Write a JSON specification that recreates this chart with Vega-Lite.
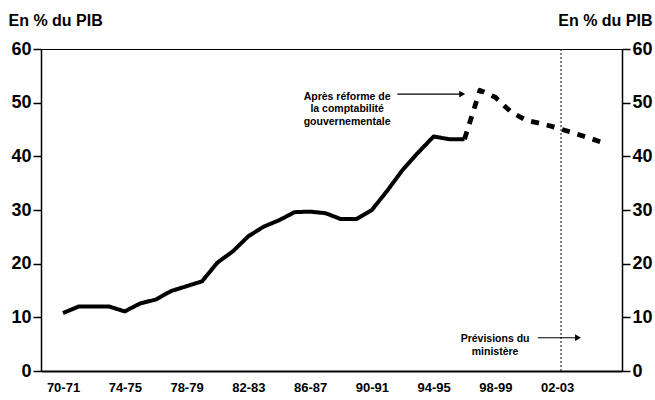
{
  "$schema": "https://vega.github.io/schema/vega-lite/v6.json",
  "width": 581,
  "height": 322,
  "autosize": {"type": "none"},
  "padding": {"left": 41, "top": 49, "right": 33, "bottom": 29},
  "background": "white",
  "config": {
    "view": {"stroke": "black", "strokeWidth": 1},
    "font": "Liberation Sans",
    "axis": {
      "domainColor": "black",
      "tickColor": "black",
      "labelColor": "black",
      "titleColor": "black",
      "grid": false,
      "labelFont": "Liberation Sans",
      "labelFontWeight": "bold",
      "titleFont": "Liberation Sans",
      "titleFontWeight": "bold"
    }
  },
  "datasets": {
    "dette": [
      {"annee": 1970, "valeur": 10.8, "serie": "Réel"},
      {"annee": 1971, "valeur": 12.0, "serie": "Réel"},
      {"annee": 1972, "valeur": 12.0, "serie": "Réel"},
      {"annee": 1973, "valeur": 12.0, "serie": "Réel"},
      {"annee": 1974, "valeur": 11.1, "serie": "Réel"},
      {"annee": 1975, "valeur": 12.6, "serie": "Réel"},
      {"annee": 1976, "valeur": 13.3, "serie": "Réel"},
      {"annee": 1977, "valeur": 14.9, "serie": "Réel"},
      {"annee": 1978, "valeur": 15.8, "serie": "Réel"},
      {"annee": 1979, "valeur": 16.7, "serie": "Réel"},
      {"annee": 1980, "valeur": 20.2, "serie": "Réel"},
      {"annee": 1981, "valeur": 22.3, "serie": "Réel"},
      {"annee": 1982, "valeur": 25.1, "serie": "Réel"},
      {"annee": 1983, "valeur": 26.9, "serie": "Réel"},
      {"annee": 1984, "valeur": 28.1, "serie": "Réel"},
      {"annee": 1985, "valeur": 29.6, "serie": "Réel"},
      {"annee": 1986, "valeur": 29.7, "serie": "Réel"},
      {"annee": 1987, "valeur": 29.4, "serie": "Réel"},
      {"annee": 1988, "valeur": 28.3, "serie": "Réel"},
      {"annee": 1989, "valeur": 28.3, "serie": "Réel"},
      {"annee": 1990, "valeur": 30.0, "serie": "Réel"},
      {"annee": 1991, "valeur": 33.6, "serie": "Réel"},
      {"annee": 1992, "valeur": 37.5, "serie": "Réel"},
      {"annee": 1993, "valeur": 40.7, "serie": "Réel"},
      {"annee": 1994, "valeur": 43.7, "serie": "Réel"},
      {"annee": 1995, "valeur": 43.2, "serie": "Réel"},
      {"annee": 1996, "valeur": 43.2, "serie": "Réel"},
      {"annee": 1996, "valeur": 43.2, "serie": "Après réforme"},
      {"annee": 1997, "valeur": 52.3, "serie": "Après réforme"},
      {"annee": 1998, "valeur": 51.0, "serie": "Après réforme"},
      {"annee": 1999, "valeur": 48.3, "serie": "Après réforme"},
      {"annee": 2000, "valeur": 46.7, "serie": "Après réforme"},
      {"annee": 2001, "valeur": 46.1, "serie": "Après réforme"},
      {"annee": 2002, "valeur": 45.3, "serie": "Après réforme"},
      {"annee": 2003, "valeur": 44.4, "serie": "Après réforme"},
      {"annee": 2004, "valeur": 43.5, "serie": "Après réforme"},
      {"annee": 2005, "valeur": 42.5, "serie": "Après réforme"}
    ],
    "repere": [
      {"annee": 2002.25, "valeur": 0, "valeur2": 60}
    ],
    "fleches": [
      {"annee": 1991.65, "annee2": 1995.7, "valeur": 51.6, "pointe": 1995.85},
      {"annee": 2000.75, "annee2": 2003.2, "valeur": 6.2, "pointe": 2003.35}
    ],
    "notes": [
      {"annee": 1988.4, "valeur": 51.1, "texte": "Après réforme de\nla comptabilité\ngouvernementale"},
      {"annee": 1997.98, "valeur": 5.9, "texte": "Prévisions du\nministère"}
    ]
  },
  "layer": [
    {
      "data": {"name": "dette"},
      "mark": {"type": "line", "color": "black", "strokeJoin": "round"},
      "encoding": {
        "x": {
          "field": "annee",
          "type": "quantitative",
          "scale": {"domain": [1968.575, 2006.2], "nice": false, "zero": false},
          "axis": {
            "orient": "bottom",
            "values": [1970, 1974, 1978, 1982, 1986, 1990, 1994, 1998, 2002],
            "labelExpr": "substring('' + datum.value, 2, 4) + '-' + substring('' + (datum.value + 1), 2, 4)",
            "tickSize": 0,
            "domainWidth": 2,
            "labelFontSize": 13,
            "labelPadding": 10,
            "labelFlush": false,
            "labelOverlap": false,
            "title": null
          }
        },
        "y": {
          "field": "valeur",
          "type": "quantitative",
          "scale": {"domain": [0, 60], "nice": false},
          "axis": {
            "orient": "left",
            "values": [0, 10, 20, 30, 40, 50, 60],
            "tickSize": 8,
            "tickWidth": 1.5,
            "domainWidth": 1.5,
            "labelFontSize": 18,
            "labelPadding": 2,
            "title": "En % du PIB",
            "titleAngle": 0,
            "titleX": -33,
            "titleY": -24,
            "titleAlign": "left",
            "titleBaseline": "alphabetic",
            "titleFontSize": 16
          }
        },
        "strokeDash": {
          "field": "serie",
          "type": "nominal",
          "scale": {"domain": ["Réel", "Après réforme"], "range": [[1, 0], [8, 8]]},
          "legend": null
        },
        "strokeWidth": {
          "field": "serie",
          "type": "nominal",
          "scale": {"domain": ["Réel", "Après réforme"], "range": [4, 4.8]},
          "legend": null
        }
      }
    },
    {
      "data": {"name": "repere"},
      "mark": {"type": "rule", "color": "black", "strokeWidth": 1, "strokeDash": [2, 2]},
      "encoding": {
        "x": {"field": "annee", "type": "quantitative"},
        "y": {
          "field": "valeur",
          "type": "quantitative",
          "axis": {
            "orient": "right",
            "values": [0, 10, 20, 30, 40, 50, 60],
            "tickSize": 8,
            "tickWidth": 1.5,
            "domainWidth": 1.5,
            "labelFontSize": 18,
            "labelPadding": 2,
            "title": "En % du PIB",
            "titleAngle": 0,
            "titleX": 30,
            "titleY": -24,
            "titleAlign": "right",
            "titleBaseline": "alphabetic",
            "titleFontSize": 16
          }
        },
        "y2": {"field": "valeur2"}
      }
    },
    {
      "data": {"name": "fleches"},
      "mark": {"type": "rule", "color": "black", "strokeWidth": 1.2},
      "encoding": {
        "x": {"field": "annee", "type": "quantitative"},
        "x2": {"field": "annee2"},
        "y": {"field": "valeur", "type": "quantitative", "axis": null}
      }
    },
    {
      "data": {"name": "fleches"},
      "mark": {"type": "point", "shape": "triangle-right", "filled": true, "color": "black", "opacity": 1, "size": 45},
      "encoding": {
        "x": {"field": "pointe", "type": "quantitative", "title": null},
        "y": {"field": "valeur", "type": "quantitative", "axis": null}
      }
    },
    {
      "data": {"name": "notes"},
      "mark": {"type": "text", "font": "Liberation Sans", "fontWeight": "bold", "fontSize": 10.5, "lineBreak": "\n", "lineHeight": 12.5, "align": "center", "baseline": "middle", "color": "black"},
      "encoding": {
        "x": {"field": "annee", "type": "quantitative"},
        "y": {"field": "valeur", "type": "quantitative", "axis": null},
        "text": {"field": "texte"}
      }
    }
  ],
  "resolve": {"scale": {"y": "shared", "x": "shared"}, "axis": {"y": "independent", "x": "shared"}}
}
